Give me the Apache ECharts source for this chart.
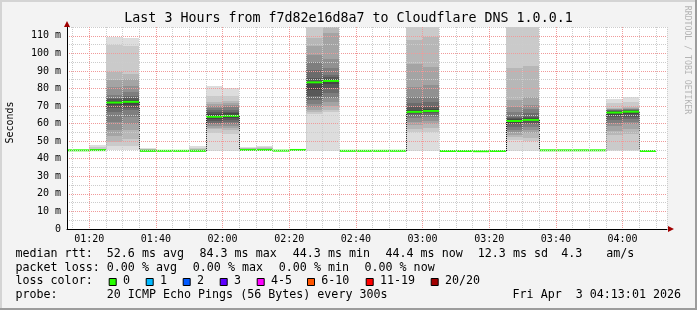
<!DOCTYPE html>
<html><head><meta charset="utf-8">
<script src="https://cdn.jsdelivr.net/npm/echarts@6/dist/echarts.min.js"></script>
<style>html,body{margin:0;padding:0;background:#f3f3f3}#c{width:697px;height:310px}</style>
</head><body><div id="c"></div>
<script>
// ---------- DATA ----------
const titleText = 'Last 3 Hours from f7d82e16d8a7 to Cloudflare DNS 1.0.0.1';
const yAxisName = 'Seconds';
const timeTicks = ['01:20','01:40','02:00','02:20','02:40','03:00','03:20','03:40','04:00'];
const yTickValues = [0,10,20,30,40,50,60,70,80,90,100,110];
const windowStart = '01:13:20';
const windowEnd = '04:13:20';

// 5-minute buckets (start time) and median rtt (ms)
const bucketStarts = ['01:10','01:15','01:20','01:25','01:30','01:35','01:40','01:45','01:50','01:55',
  '02:00','02:05','02:10','02:15','02:20','02:25','02:30','02:35','02:40','02:45',
  '02:50','02:55','03:00','03:05','03:10','03:15','03:20','03:25','03:30','03:35',
  '03:40','03:45','03:50','03:55','04:00','04:05'];
const medianRtt = [44.8,44.8,44.9,72.0,72.4,44.5,44.5,44.5,44.5,63.9,
  64.4,45.0,45.0,44.6,45.0,83.5,84.3,44.5,44.5,44.5,
  44.5,66.7,67.2,44.4,44.4,44.3,44.4,61.5,62.1,44.8,
  44.8,44.8,44.8,66.3,66.8,44.4];

// 20 sorted ping times (ms) per bucket that shows smoke
const pings0120 = [44.3,44.4,44.5,44.6,44.6,44.7,44.7,44.8,44.8,44.9,44.9,45.0,45.0,45.1,45.2,45.3,45.5,45.8,46.5,48.0];
const pings0125 = [44.9,47.0,49.6,53.0,56.4,61.0,66.7,69.0,70.5,71.5,72.5,73.0,73.8,74.8,76.3,81.0,85.0,89.4,104.6,109.3];
const pings0130 = [44.7,47.5,51.0,56.3,60.0,63.5,67.7,69.0,70.5,71.9,72.9,73.3,74.3,75.5,78.0,81.5,85.2,88.5,104.0,108.8];
const pings0135 = [44.0,44.1,44.2,44.3,44.3,44.4,44.4,44.4,44.5,44.5,44.5,44.6,44.6,44.7,44.8,44.9,45.0,45.3,45.7,46.3];
const pings0150 = [44.0,44.1,44.2,44.3,44.3,44.4,44.4,44.4,44.5,44.5,44.5,44.6,44.6,44.7,44.8,44.9,45.1,45.5,46.2,47.5];
const pings0155 = [44.5,54.4,56.7,57.5,58.5,59.5,60.5,61.5,62.5,63.5,64.3,65.3,66.5,67.5,69.0,70.0,71.0,72.4,76.0,81.3];
const pings0200 = [44.6,54.0,56.5,57.5,58.5,59.8,61.0,62.0,63.0,64.0,64.8,65.8,66.8,68.0,69.5,70.5,71.5,73.0,76.0,80.0];
const pings0205 = [44.4,44.5,44.6,44.7,44.8,44.8,44.9,44.9,45.0,45.0,45.0,45.1,45.1,45.2,45.3,45.4,45.6,45.9,46.3,46.9];
const pings0210 = [44.4,44.5,44.6,44.7,44.8,44.8,44.9,44.9,45.0,45.0,45.0,45.1,45.1,45.2,45.3,45.5,45.7,46.1,46.7,47.5];
const pings0225 = [44.5,65.5,66.4,68.0,69.6,71.0,73.4,76.0,79.2,83.3,83.7,84.5,86.0,90.5,95.0,99.0,104.0,108.7,125.0,140.0];
const pings0230 = [44.5,66.4,67.7,70.0,72.5,74.5,77.2,80.0,82.5,83.9,84.7,85.3,86.5,87.6,91.4,97.0,111.3,122.0,130.0,145.0];
const pings0255 = [44.4,55.3,57.0,59.1,61.0,63.0,64.5,65.5,66.2,66.5,66.9,68.0,69.5,72.0,75.2,81.0,94.2,107.5,122.0,135.0];
const pings0300 = [44.4,55.5,57.5,59.5,61.5,63.5,65.0,66.0,66.6,67.0,67.4,68.5,69.6,72.5,75.3,82.0,92.4,109.3,125.0,140.0];
const pings0325 = [44.5,50.7,52.2,53.6,55.0,56.5,58.0,59.5,60.5,61.2,61.8,62.5,63.2,64.0,66.5,69.6,73.5,91.5,125.0,160.0];
const pings0330 = [44.5,50.0,52.0,54.7,56.5,58.0,59.5,60.5,61.3,61.9,62.3,63.0,64.0,66.0,68.5,70.6,75.0,93.0,125.0,160.0];
const pings0355 = [44.5,45.0,53.6,56.0,58.5,60.2,62.0,63.5,65.0,66.0,66.6,66.9,67.2,67.5,67.9,68.2,68.5,68.8,72.0,74.1];
const pings0400 = [44.5,45.0,54.0,57.0,59.5,61.0,62.5,64.0,65.5,66.5,67.1,67.4,67.7,68.0,68.3,68.6,68.9,69.3,72.5,75.4];

const lossLabels = ['0','1','2','3','4-5','6-10','11-19','20/20'];
const lossColors = ['#26ff00','#00b8ff','#0059ff','#5e00ff','#ff00ff','#ff5500','#ff0000','#a10000'];
const rttLine = ['median rtt:','52.6 ms avg','84.3 ms max','44.3 ms min','44.4 ms now','12.3 ms sd','4.3','am/s'];
const lossLine = ['packet loss:','0.00 % avg','0.00 % max','0.00 % min','0.00 % now'];
const probeLine = ['probe:','20 ICMP Echo Pings (56 Bytes) every 300s'];
const dateText = 'Fri Apr  3 04:13:01 2026';
const watermark = 'RRDTOOL / TOBI OETIKER';

// ---------- BUILD ----------
const toMin = s => { const p = s.split(':').map(Number); return p[0]*60 + p[1] + (p[2]||0)/60; };
const pad = n => String(n).padStart(2,'0');
const fmt = v => pad(Math.floor(Math.round(v)/60)) + ':' + pad(Math.round(v)%60);
const X_MIN = toMin(windowStart), X_MAX = toMin(windowEnd);
const Y_MAX = 115, STEP = 5;
const smokeByStart = {'01:20':pings0120,'01:25':pings0125,'01:30':pings0130,'01:35':pings0135,'01:50':pings0150,
  '01:55':pings0155,'02:00':pings0200,'02:05':pings0205,'02:10':pings0210,'02:25':pings0225,'02:30':pings0230,
  '02:55':pings0255,'03:00':pings0300,'03:25':pings0325,'03:30':pings0330,'03:55':pings0355,'04:00':pings0400};
const smokeList = [];
const smokeData = [];
bucketStarts.forEach(b => { if (smokeByStart[b]) { smokeData.push([toMin(b), toMin(b)+STEP, smokeList.length]); smokeList.push(smokeByStart[b]); } });
const medianData = bucketStarts.map((b,i) => [toMin(b), toMin(b)+STEP, medianRtt[i]]);
const stepData = [];
for (let i = 0; i < bucketStarts.length - 1; i++) stepData.push([toMin(bucketStarts[i])+STEP, medianRtt[i], medianRtt[i+1]]);

const FONT = 'DejaVu Sans Mono';
const RED = '#f09a9a', GRAY = '#cccccc';
const xSplitColors = [GRAY].concat(timeTicks.map(() => RED)).concat([GRAY]);
const ySplitColors = yTickValues.map(() => RED).concat([GRAY]);

const gray = lvl => { const g = Math.floor(190/10*(10-lvl)) + 50; return 'rgb(' + g + ',' + g + ',' + g + ')'; };

const graphic = [];
// frame
graphic.push({type:'rect', shape:{x:0,y:0,width:697,height:2}, style:{fill:'#d4d4d4'}, silent:true});
graphic.push({type:'rect', shape:{x:0,y:0,width:2,height:310}, style:{fill:'#d4d4d4'}, silent:true});
graphic.push({type:'rect', shape:{x:0,y:308,width:697,height:2}, style:{fill:'#9c9c9c'}, silent:true});
graphic.push({type:'rect', shape:{x:695,y:0,width:2,height:310}, style:{fill:'#9c9c9c'}, silent:true});
// title
graphic.push({type:'text', x:348.5, y:19, style:{text:titleText, font:'13.3px "DejaVu Sans Mono"', fill:'#000', align:'center', verticalAlign:'middle'}});
graphic.push({type:'text', x:10, y:122.5, rotation:Math.PI/2, style:{text:yAxisName, font:'10px "DejaVu Sans Mono"', fill:'#000', align:'center', verticalAlign:'middle'}});
graphic.push({type:'text', x:687, y:60, rotation:-Math.PI/2, style:{text:watermark, font:'8.2px "DejaVu Sans Mono"', fill:'#b4b4b4', align:'center', verticalAlign:'middle'}});
// arrows
graphic.push({type:'polygon', shape:{points:[[64,27],[70,27],[67,21]]}, style:{fill:'#a00000'}, z:10});
graphic.push({type:'polygon', shape:{points:[[668,226],[668,232],[674,229]]}, style:{fill:'#a00000'}, z:10});
// legend lines
const LF = '11.66px "DejaVu Sans Mono"';
const rttX = [15.5,106.8,199.5,292.8,385.5,477.8,561.2,606.2];
rttLine.forEach((t,i) => graphic.push({type:'text', x:rttX[i], y:254.2, style:{text:t, font:LF, fill:'#000', verticalAlign:'middle'}}));
const lossX = [15.5,106.8,192.8,278.8,364.5];
lossLine.forEach((t,i) => graphic.push({type:'text', x:lossX[i], y:267.6, style:{text:t, font:LF, fill:'#000', verticalAlign:'middle'}}));
graphic.push({type:'text', x:15.5, y:281.2, style:{text:'loss color:', font:LF, fill:'#000', verticalAlign:'middle'}});
const boxX = [108.7,145.7,182.7,219.7,256.7,307,365.7,430.7];
lossLabels.forEach((t,i) => {
  graphic.push({type:'rect', shape:{x:boxX[i]+0.5, y:278.5, width:7, height:7}, style:{fill:lossColors[i], stroke:'#000', lineWidth:1}});
  graphic.push({type:'text', x:boxX[i]+14.2, y:281.2, style:{text:t, font:LF, fill:'#000', verticalAlign:'middle'}});
});
const probeX = [15.5,106.8];
probeLine.forEach((t,i) => graphic.push({type:'text', x:probeX[i], y:294.9, style:{text:t, font:LF, fill:'#000', verticalAlign:'middle'}}));
graphic.push({type:'text', x:681, y:294.9, style:{text:dateText, font:LF, fill:'#000', align:'right', verticalAlign:'middle'}});

const option = {
  animation:false,
  backgroundColor:'#f3f3f3',
  grid:{left:67, top:27, width:600, height:202, show:true, backgroundColor:'#ffffff', borderWidth:0},
  xAxis:{type:'value', min:X_MIN, max:X_MAX, splitNumber:10, z:3,
    axisLine:{show:true, onZero:false, lineStyle:{color:'#000', width:1}},
    axisTick:{show:false},
    minorTick:{show:false, splitNumber:4},
    axisLabel:{show:true, showMinLabel:false, showMaxLabel:false, margin:5, color:'#000', fontFamily:FONT, fontSize:10,
      formatter:v => { const s = fmt(v); return timeTicks.indexOf(s) >= 0 ? s : ''; }},
    splitLine:{show:true, lineStyle:{color:xSplitColors, type:[1,1], width:1}},
    minorSplitLine:{show:true, lineStyle:{color:GRAY, type:[1,1], width:1}}
  },
  yAxis:{type:'value', min:0, max:Y_MAX, interval:10, z:3,
    axisLine:{show:true, lineStyle:{color:'#000', width:1}},
    axisTick:{show:false},
    minorTick:{show:false, splitNumber:2},
    axisLabel:{show:true, showMaxLabel:false, margin:6, color:'#000', fontFamily:FONT, fontSize:10,
      formatter:v => yTickValues.indexOf(v) < 0 ? '' : (v === 0 ? '0' : v + ' m')},
    splitLine:{show:true, lineStyle:{color:ySplitColors, type:[1,1], width:1}},
    minorSplitLine:{show:true, lineStyle:{color:GRAY, type:[1,1], width:1}}
  },
  series:[
    {type:'custom', name:'smoke', z:1, silent:true, data:smokeData,
      renderItem:(params, api) => {
        const s = Math.max(api.value(0), X_MIN), e = api.value(1), pings = smokeList[api.value(2)];
        const x0 = Math.round(api.coord([s, 0])[0]), x1 = Math.round(api.coord([e, 0])[0]);
        const children = [];
        for (let i = 0; i < 19; i++) {
          const lo = Math.min(pings[i], Y_MAX), hi = Math.min(pings[i+1], Y_MAX);
          if (hi <= lo) continue;
          const lvl = i < 9 ? i + 1 : (i === 9 ? 10 : 19 - i);
          const y0 = Math.round(api.coord([s, lo])[1]), y1 = Math.round(api.coord([s, hi])[1]);
          if (y0 <= y1) continue;
          children.push({type:'rect', shape:{x:x0, y:y1, width:x1-x0, height:y0-y1}, style:{fill:gray(lvl)}});
        }
        return {type:'group', children};
      }},
    {type:'custom', name:'steps', z:2, silent:true, data:stepData,
      renderItem:(params, api) => {
        const p0 = api.coord([api.value(0), api.value(1)]), p1 = api.coord([api.value(0), api.value(2)]);
        const x = Math.round(p0[0]) + 0.5;
        return {type:'line', shape:{x1:x, y1:p0[1], x2:x, y2:p1[1]}, style:{stroke:'#111', lineWidth:1, lineDash:[1,1]}};
      }},
    {type:'custom', name:'median', z:2, silent:true, data:medianData,
      renderItem:(params, api) => {
        const s = Math.max(api.value(0), X_MIN);
        const p0 = api.coord([s, api.value(2)]), p1 = api.coord([api.value(1), api.value(2)]);
        return {type:'line', shape:{x1:Math.round(p0[0]), y1:p0[1], x2:Math.round(p1[0]), y2:p1[1]}, style:{stroke:'#26ff00', lineWidth:2}};
      }}
  ],
  graphic:graphic
};
const chart = echarts.init(document.getElementById('c'), null, {renderer:'canvas'});
chart.setOption(option);
</script>
</body></html>
